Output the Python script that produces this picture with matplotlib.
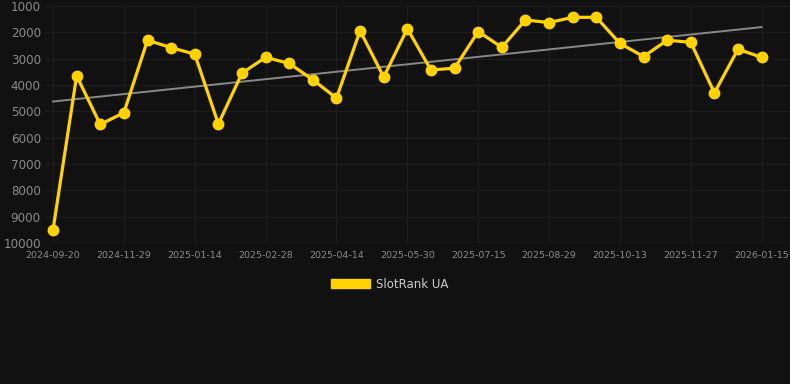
import matplotlib
matplotlib.use("Agg")
import matplotlib.pyplot as plt
from matplotlib.patches import Patch
import numpy as np

ranks = [9500, 3650, 5500, 5050, 2300, 2580, 2830, 5480, 3550, 2950, 3180,
         3800, 4500, 1940, 3700, 1860, 3430, 3360, 1970, 2570, 1530, 1630,
         1430, 1430, 2420, 2920, 2300, 2380, 4300, 2640, 2950]
tick_labels = ["2024-09-20", "2024-11-29", "2025-01-14", "2025-02-28",
               "2025-04-14", "2025-05-30", "2025-07-15", "2025-08-29",
               "2025-10-13", "2025-11-27", "2026-01-15"]
y_ticks = [1000, 2000, 3000, 4000, 5000, 6000, 7000, 8000, 9000, 10000]
series_name = "SlotRank UA"

bg = "#111111"
gold = "#FFD200"

fig = plt.figure(figsize=(7.9, 3.84), dpi=100, facecolor=bg)
ax = fig.add_axes([45/790, 1-243/384, 745/790, 237/384], facecolor=bg)

x = np.arange(len(ranks))
coef = np.polyfit(x, ranks, 1)
ax.plot(x, np.polyval(coef, x), color="#888888", lw=1.4, zorder=2)
ax.plot(x, ranks, color=gold, lw=2.3, marker="o", ms=7.5, zorder=3)

ax.set_ylim(10000, 1000)
ax.set_xlim(-0.34, 31.2)
ax.set_yticks(y_ticks)
ax.set_yticklabels([str(v) for v in y_ticks])
ax.set_xticks(x[::3])
ax.set_xticklabels(tick_labels)

ax.grid(True, color="#1e1e1e", lw=0.8)
ax.set_axisbelow(True)
for s in ax.spines.values():
    s.set_visible(False)
ax.axhline(10000, color="#2c2c2c", lw=1, zorder=1)
ax.tick_params(axis="y", length=0, colors="#8a8a8a", labelsize=8.6, pad=3)
ax.tick_params(axis="x", length=0, colors="#8a8a8a", labelsize=6.8, pad=6)

leg = fig.legend(handles=[Patch(facecolor=gold, edgecolor=gold)], labels=[series_name],
                 loc="center", bbox_to_anchor=(390/790, 1-284/384), frameon=False,
                 handlelength=3.3, handleheight=0.9, handletextpad=0.5,
                 prop={"size": 8.5})
for t in leg.get_texts():
    t.set_color("#cccccc")

fig.savefig("out.png", dpi=100, facecolor=bg)
